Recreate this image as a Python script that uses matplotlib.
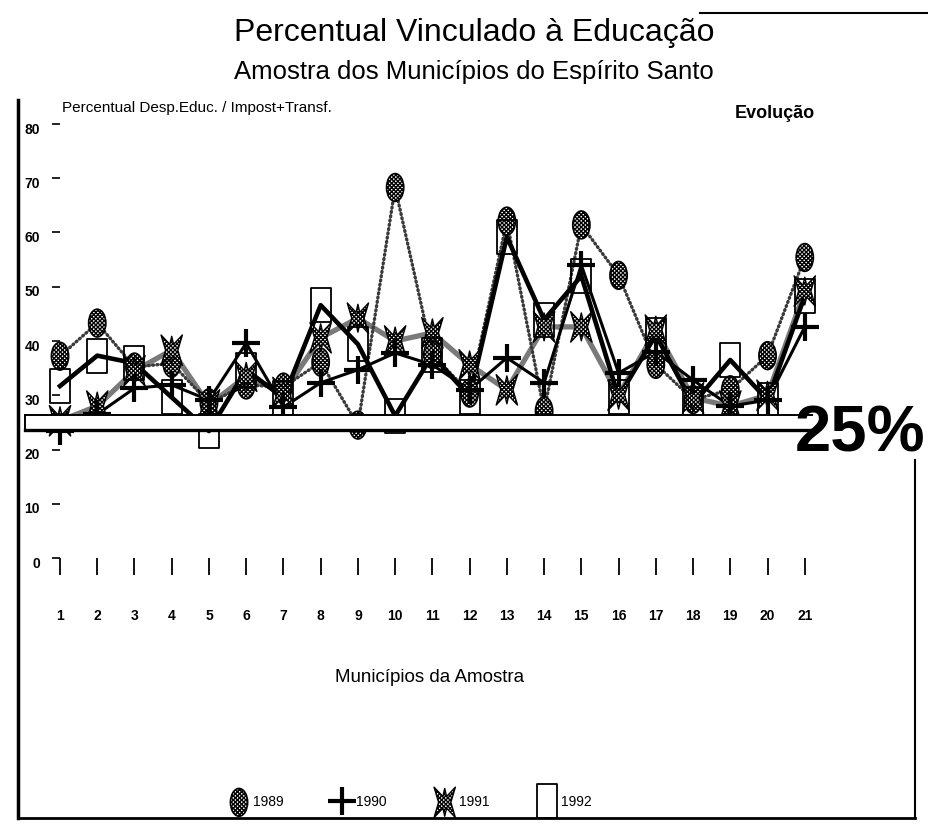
import numpy as np
import matplotlib
matplotlib.use('Agg')
import matplotlib.pyplot as plt
from matplotlib.path import Path
from matplotlib.lines import Line2D
from matplotlib.patches import Rectangle
from matplotlib.transforms import ScaledTranslation, Affine2D

plt.rcParams['font.family'] = ['Liberation Sans', 'DejaVu Sans']
plt.rcParams['hatch.linewidth'] = 1.0

# ---------------- data ----------------
municipios = list(range(1, 22))
v1989 = [37.2, 43.3, 35.2, 35.9, 28.6, 31.9, 31.5, 36.1, 24.5, 68.3, 37.5,
         30.4, 62.1, 27.1, 61.4, 52.1, 35.7, 29.2, 31.0, 37.3, 55.4]
v1990 = [23.5, 26.5, 31.3, 31.9, 29.1, 39.6, 27.8, 32.3, 34.7, 37.8, 35.6,
         31.0, 36.9, 32.3, 54.0, 34.1, 38.0, 32.8, 28.0, 29.1, 42.6]
v1991 = [25.3, 28.0, 34.5, 38.3, 28.2, 33.5, 30.5, 40.6, 44.2, 40.0, 41.5,
         35.6, 31.0, 42.6, 42.6, 30.0, 42.0, 29.5, 28.0, 30.0, 49.2]
v1992 = [31.7, 37.3, 35.9, 29.6, 23.4, 34.7, 29.5, 46.6, 39.4, 26.2, 37.4,
         29.7, 59.2, 43.9, 52.0, 29.7, 41.1, 28.4, 36.5, 29.1, 48.3]
anos = ['1989', '1990', '1991', '1992']
yticks = [0, 10, 20, 30, 40, 50, 60, 70, 80]
threshold = 25

title = 'Percentual Vinculado à Educação'
subtitle = 'Amostra dos Municípios do Espírito Santo'
ylabel = 'Percentual Desp.Educ. / Impost+Transf.'
xlabel = 'Municípios da Amostra'
note = 'Evolução'

# ---------------- figure ----------------
W, H = 929, 824
fig = plt.figure(figsize=(W / 100, H / 100), dpi=100)
fig.patch.set_facecolor('white')


def fx(px):
    return px / W


def fy(py):
    return 1 - py / H


ax = fig.add_axes([fx(60), fy(558), (842 - 60) / W, (558 - 124) / H])
ax.set_xlim(1, 22)
ax.set_ylim(0, 80)
for s in ax.spines.values():
    s.set_visible(False)
ax.patch.set_alpha(0)

# marker shapes
ellipse = Path.unit_circle().transformed(Affine2D().scale(0.62, 1.0))
rect = Path([(-0.29, -0.5), (0.29, -0.5), (0.29, 0.5), (-0.29, 0.5), (-0.29, -0.5)],
            closed=True)
arms = [(55, 1.0), (90, 0.75), (125, 1.0), (235, 1.0), (270, 0.75), (305, 1.0)]
verts = []
for i, (a, r) in enumerate(arms):
    a2 = arms[(i + 1) % len(arms)][0]
    if a2 < a:
        a2 += 360
    verts.append((r * np.cos(np.deg2rad(a)), r * np.sin(np.deg2rad(a))))
    m = np.deg2rad((a + a2) / 2)
    verts.append((0.33 * np.cos(m), 0.33 * np.sin(m)))
verts.append(verts[0])
star = Path(verts, closed=True)

# lines
ax.plot(municipios, v1991, color='#7a7a7a', lw=3.8, zorder=2, clip_on=False,
        solid_joinstyle='round')
ax.plot(municipios, v1989, color='#3a3a3a', lw=2.4, ls=(0, (0.3, 1.0)),
        dash_capstyle='round', zorder=2.5, clip_on=False)
ax.plot(municipios, v1990, color='black', lw=2.2, zorder=3, clip_on=False)
ax.plot(municipios, v1992, color='black', lw=3.3, zorder=3, clip_on=False)

# markers
sc89 = ax.scatter(municipios, v1989, marker=ellipse, s=400, facecolor='white',
                  edgecolor='black', hatch='xxxxxxxx', linewidths=1.2, zorder=5,
                  clip_on=False, label=anos[0])
l90, = ax.plot(municipios, v1990, ls='none', marker='+', ms=20, mew=3,
               color='black', zorder=5.5, clip_on=False, label=anos[1])
sc91 = ax.scatter(municipios, v1991, marker=star, s=480, facecolor='white',
                  edgecolor='black', hatch='xxxxxxxx', linewidths=1.0, zorder=5.2,
                  clip_on=False, label=anos[2])
l92, = ax.plot(municipios, v1992, ls='none', marker=rect, ms=25, mfc='none',
               mec='black', mew=1.3, zorder=5.3, clip_on=False, label=anos[3])

# 25% band
bx0, bx1 = municipios[0] - 0.94, municipios[-1] + 0.2
half = 1.45
ax.add_patch(Rectangle((bx0, threshold - half), bx1 - bx0, 2 * half,
                       facecolor='white', edgecolor='none', zorder=6, clip_on=False))
ax.plot([bx0, bx1], [threshold + half] * 2, color='black', lw=1.4, zorder=6.5,
        clip_on=False)
ax.plot([bx0, bx1], [threshold - half] * 2, color='black', lw=2.4, zorder=6.5,
        clip_on=False)
ax.plot([bx0, bx0], [threshold - half, threshold + half], color='black', lw=1.4,
        zorder=6.5, clip_on=False)
fig.text(fx(795), fy(452), f'{threshold}%', fontsize=47, weight='bold',
         ha='left', va='baseline', zorder=7)

# ticks
ax.set_yticks(yticks)
ax.set_yticklabels([str(t) for t in yticks])
ax.tick_params(axis='y', direction='out', length=5.5, width=1.2, pad=9,
               labelsize=10)
for lab in ax.get_yticklabels():
    lab.set_fontweight('bold')
    lab.set_transform(lab.get_transform() +
                      ScaledTranslation(0, -3 / 72, fig.dpi_scale_trans))
ax.set_xticks(municipios)
ax.set_xticklabels([str(m) for m in municipios])
ax.tick_params(axis='x', direction='out', length=12, width=1.3, pad=25,
               labelsize=10)
for lab in ax.get_xticklabels():
    lab.set_fontweight('bold')

ax.set_xlabel(xlabel, fontsize=13.5)
ax.xaxis.set_label_coords((430 - 60) / 782, (558 - 678) / 434)
ax.xaxis.label.set_va('center')
ax.set_ylabel(ylabel, fontsize=11, rotation=0, ha='left', va='center')
ax.yaxis.set_label_coords((62 - 60) / 782, (558 - 108) / 434)

fig.text(fx(474), fy(33), title, fontsize=23, ha='center', va='center')
fig.text(fx(474), fy(72), subtitle, fontsize=18.5, ha='center', va='center')
fig.text(fx(735), fy(113), note, fontsize=13, weight='bold', ha='left',
         va='center')

# legend
fig.legend(handles=[sc89, l90, sc91, l92], labels=anos, loc='center',
           bbox_to_anchor=(fx(410), fy(802)), ncol=4, frameon=False,
           fontsize=10, handletextpad=0.2, columnspacing=3.4, handlelength=1.6,
           scatterpoints=1)

# frame of the scanned page
for xs, ys, lw in [([18, 18], [100, 818], 2.5), ([18, 915], [818, 818], 2.0),
                   ([915, 915], [460, 818], 1.5), ([700, 929], [13, 13], 1.5)]:
    fig.add_artist(Line2D([fx(x) for x in xs], [fy(y) for y in ys], lw=lw,
                          color='black', transform=fig.transFigure))

fig.savefig('out.png', dpi=100, facecolor='white')
